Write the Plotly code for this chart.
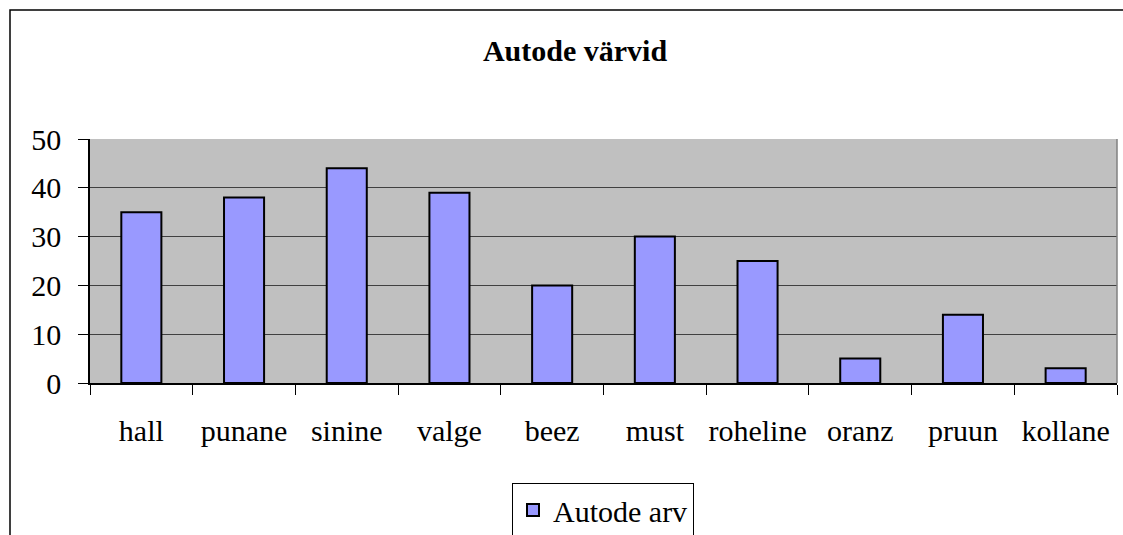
import plotly.graph_objects as go

categories = ["hall", "punane", "sinine", "valge", "beez", "must", "roheline", "oranz", "pruun", "kollane"]
values = [35, 38, 44, 39, 20, 30, 25, 5, 14, 3]
series_name = "Autode arv"
title_text = "Autode värvid"
y_ticks = [0, 10, 20, 30, 40, 50]

W, H = 1123, 535
L, R, T, B = 90, 6, 139, 152
pw, ph = W - L - R, H - T - B

FONT = "Liberation Serif"
FS = 30

fig = go.Figure()
fig.add_trace(go.Bar(
    x=categories, y=values, name=series_name,
    marker=dict(color="#9999FF", line=dict(color="black", width=2)),
    showlegend=True,
))

# outer frame (top-left corner visible, extends beyond image)
fig.add_shape(type="rect", xref="paper", yref="paper",
              x0=(10 - L) / pw, x1=1.2, y0=-1.5, y1=(H - B - 10) / ph,
              line=dict(color="black", width=1.5), layer="below")
# plot area right border
fig.add_shape(type="line", xref="paper", yref="paper",
              x0=1, x1=1, y0=0, y1=1, line=dict(color="#808080", width=1.5))

fig.update_layout(
    width=W, height=H,
    margin=dict(l=L, r=R, t=T, b=B, pad=0, autoexpand=False),
    paper_bgcolor="white",
    plot_bgcolor="#C0C0C0",
    bargap=0.61,
    font=dict(family=FONT, size=FS, color="black"),
    title=dict(text="<b>" + title_text + "</b>", x=575 / W, xanchor="center",
               y=1 - 50 / H, yanchor="middle", font=dict(family=FONT, size=FS, color="black")),
    legend=dict(orientation="h", x=(603 - L) / pw, xanchor="center",
                y=(H - B - 483) / ph, yanchor="top",
                bordercolor="black", borderwidth=1, bgcolor="white",
                font=dict(family=FONT, size=FS, color="black")),
    xaxis=dict(
        type="category", showline=True, linecolor="black", linewidth=1.5,
        ticks="outside", ticklen=10, tickcolor="black", tickwidth=1,
        tickson="boundaries", showgrid=False, tickangle=0, automargin=False,
        ticklabelstandoff=20,
        tickfont=dict(family=FONT, size=FS, color="black"),
    ),
    yaxis=dict(
        range=[0, 50], tickvals=y_ticks, showline=True, linecolor="black", linewidth=1.5,
        ticks="outside", ticklen=10, tickcolor="black", tickwidth=1,
        showgrid=True, gridcolor="#404040", gridwidth=1, automargin=False,
        ticklabelstandoff=11, zeroline=False,
        tickfont=dict(family=FONT, size=FS, color="black"),
    ),
)

fig.write_html("out.html", config={"displayModeBar": False},
               post_script="document.body.style.margin='0';")
